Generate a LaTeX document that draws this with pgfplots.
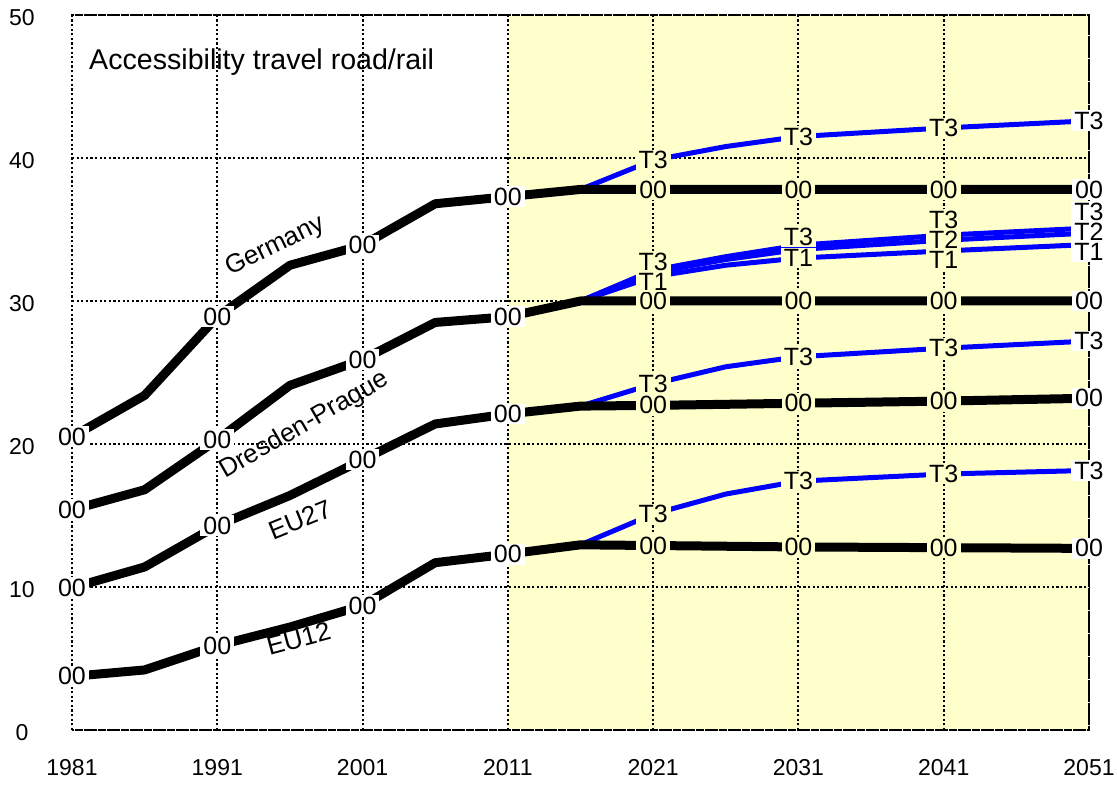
\documentclass[border=0pt]{standalone}
\usepackage{fontspec}
\setmainfont{Liberation Sans}
\usepackage{pgfplots}
\usepackage{pgfplotstable}
\pgfplotsset{compat=1.18}
\definecolor{yel}{RGB}{255,255,204}
\definecolor{tblue}{RGB}{0,0,255}
\tikzset{
  blk/.style={black, line width=4.5pt, line join=round},
  blu/.style={tblue, line width=2.5pt, line join=round},
  nm/.style={font=\fontsize{13}{13}\selectfont},
}
\pgfplotstableread{
x y l
1981 20.5 00
1991 28.9 00
2001 33.9 00
2011 37.3 00
2051 37.8 00
2051 42.6 T3
1981 15.4 00
1991 20.3 00
2001 25.9 00
2011 28.9 00
2051 30.0 00
2051 36.25 T3
2051 34.85 T2
2051 33.45 T1
1981 9.95 00
1991 14.3 00
2001 18.9 00
2011 22.1 00
2051 23.2 00
2051 27.2 T3
1981 3.75 00
1991 5.9 00
2001 8.7 00
2011 12.3 00
2051 12.7 00
2051 18.15 T3
}\labwhite
\pgfplotstableread{
x y l
2021 37.8 00
2031 37.8 00
2041 37.8 00
2021 39.85 T3
2031 41.5 T3
2041 42.1 T3
2021 30.0 00
2031 30.0 00
2041 30.0 00
2021 32.75 T3
2021 31.35 T1
2031 34.5 T3
2031 33.0 T1
2041 35.7 T3
2041 34.3 T2
2041 32.9 T1
2021 22.7 00
2031 22.85 00
2041 23.0 00
2021 24.2 T3
2031 26.1 T3
2041 26.7 T3
2021 12.9 00
2031 12.8 00
2041 12.75 00
2021 15.1 T3
2031 17.4 T3
2041 17.9 T3
}\labyellow
\begin{document}
\begin{tikzpicture}
% shaded projection period 2011-2051 (axis is 508.5pt wide for 70 years)
\fill[yel] (217.93pt,0pt) rectangle (508.5pt,357.5pt);
\begin{axis}[at={(0,0)}, anchor=south west, scale only axis,
  width=508.5pt, height=357.5pt,
  xmin=1981, xmax=2051, ymin=0, ymax=50,
  xtick={1981,1991,...,2051}, ytick={0,10,...,50},
  grid=major,
  grid style={black, line width=1pt, dash pattern=on 1.1pt off 1.2pt},
  axis line style={black, line width=1pt, dash pattern=on 1.1pt off 1.2pt},
  major tick length=0pt,
  clip=false,
  /pgf/number format/assume math mode=true,
  /pgf/number format/1000 sep={},
  tick label style={font=\fontsize{11.5}{12}\selectfont},
  xticklabel style={anchor=center, yshift=-19pt},
  yticklabel style={anchor=center, xshift=-25pt, yshift=-1.5pt},
]
% Germany
\addplot[blu] coordinates {(2016,37.8) (2021,39.85) (2026,40.8) (2031,41.5) (2041,42.1) (2051,42.6)};
\addplot[blk] coordinates {(1981,20.5) (1986,23.4) (1991,28.9) (1996,32.5) (2001,33.9) (2006,36.8) (2011,37.3) (2016,37.8) (2021,37.8) (2031,37.8) (2041,37.8) (2051,37.8)};
% Dresden-Prague
\addplot[blu] coordinates {(2016,30.0) (2021,32.15) (2026,33.1) (2031,33.9) (2041,34.6) (2051,35.1)};
\addplot[blu] coordinates {(2016,30.0) (2021,32.0) (2026,32.9) (2031,33.6) (2041,34.25) (2051,34.75)};
\addplot[blu] coordinates {(2016,30.0) (2021,31.7) (2026,32.5) (2031,33.0) (2041,33.5) (2051,33.95)};
\addplot[blk] coordinates {(1981,15.4) (1986,16.8) (1991,20.3) (1996,24.1) (2001,25.9) (2006,28.5) (2011,28.9) (2016,30.0) (2021,30.0) (2031,30.0) (2041,30.0) (2051,30.0)};
% EU27
\addplot[blu] coordinates {(2016,22.65) (2021,24.2) (2026,25.4) (2031,26.1) (2041,26.7) (2051,27.2)};
\addplot[blk] coordinates {(1981,9.95) (1986,11.4) (1991,14.3) (1996,16.4) (2001,18.9) (2006,21.4) (2011,22.1) (2016,22.65) (2021,22.7) (2031,22.85) (2041,23.0) (2051,23.2)};
% EU12
\addplot[blu] coordinates {(2016,12.95) (2021,15.1) (2026,16.5) (2031,17.4) (2041,17.9) (2051,18.15)};
\addplot[blk] coordinates {(1981,3.75) (1986,4.2) (1991,5.9) (1996,7.2) (2001,8.7) (2006,11.7) (2011,12.3) (2016,12.95) (2021,12.9) (2031,12.8) (2041,12.75) (2051,12.7)};
% point labels
\addplot[draw=none, mark=none, nodes near coords, point meta=explicit symbolic,
  every node near coord/.style={anchor=center, font=\fontsize{12.5}{12}\selectfont, inner xsep=1.5pt, inner ysep=0.8pt, fill=white, text=black}]
  table[x=x, y=y, meta=l] {\labwhite};
\addplot[draw=none, mark=none, nodes near coords, point meta=explicit symbolic,
  every node near coord/.style={anchor=center, font=\fontsize{12.5}{12}\selectfont, inner xsep=1.5pt, inner ysep=0.8pt, fill=yel, text=black}]
  table[x=x, y=y, meta=l] {\labyellow};
% series names
\node[nm, rotate=26] at (axis cs:1995,33.8) {Germany};
\node[nm, rotate=30] at (axis cs:1997,21.3) {Dresden-Prague};
\node[nm, rotate=22] at (axis cs:1996.7,14.7) {EU27};
\node[nm, rotate=15] at (axis cs:1996.6,6.4) {EU12};
\node[font=\fontsize{14.3}{14}\selectfont, anchor=west] at (axis cs:1981.7,46.7) {Accessibility travel road/rail};
\end{axis}
\pgfresetboundingbox
\path[use as bounding box] (-36pt,-27.5pt) rectangle (522.5pt,365pt);
\end{tikzpicture}
\end{document}
